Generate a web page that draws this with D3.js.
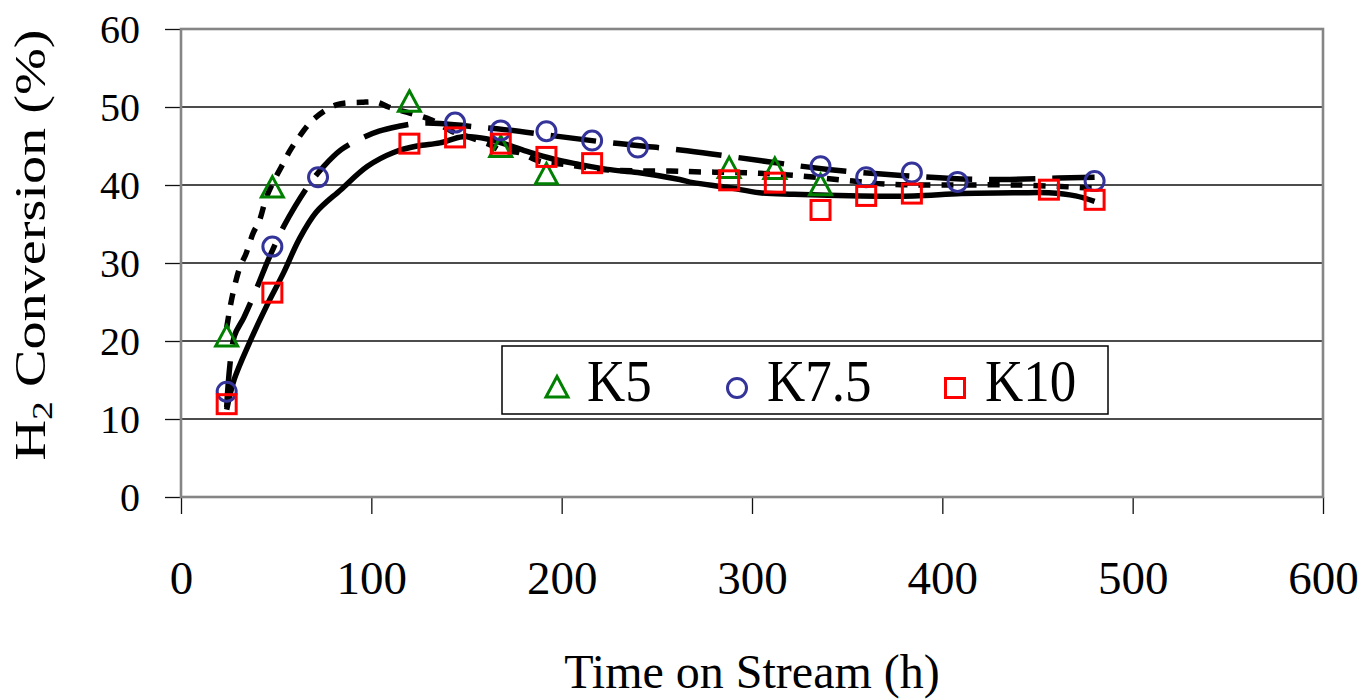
<!DOCTYPE html>
<html>
<head>
<meta charset="utf-8">
<script src="https://cdn.jsdelivr.net/npm/d3@7"></script>
<style>
    body { margin: 0; background: white; }
    svg text { font-family: "Liberation Serif", "Times New Roman", serif; fill: black; }
</style>
</head>
<body>
<div id="chart"></div>
<script>
const k5Hours = [24, 48, 120, 168, 192, 288, 312, 336];
const k5Conv = [20.5, 39.6, 50.6, 44.8, 41.3, 42.1, 42.0, 39.9];

const k75Hours = [24, 48, 72, 144, 168, 192, 216, 240, 336, 360, 384, 408, 480];
const k75Conv = [13.5, 32.1, 41.0, 48.0, 47.0, 46.9, 45.7, 44.8, 42.4, 41.0, 41.6, 40.4, 40.5];

const k10Hours = [24, 48, 120, 144, 168, 192, 216, 288, 312, 336, 360, 384, 456, 480];
const k10Conv = [11.9, 26.2, 45.3, 46.1, 45.3, 43.6, 42.8, 40.6, 40.3, 36.8, 38.6, 38.9, 39.4, 38.1];

// trend curves
const k5FitHours = [24, 27, 31, 34, 38, 41, 45, 50, 54, 57, 61, 70, 82, 95, 103, 109, 119, 131, 143, 148, 162, 169, 177, 189, 203, 221, 241, 257, 270, 290, 304, 324, 353, 371, 400, 440, 480];
const k5FitConv = [21.7, 25.8, 29.5, 31.1, 33.9, 35.3, 38.5, 41.1, 42.9, 44.3, 45.8, 48.5, 50.3, 50.6, 50.6, 50.0, 49.3, 48.4, 46.8, 46.4, 45.2, 44.3, 44.2, 43.0, 42.6, 42.0, 41.8, 41.8, 41.7, 41.6, 41.5, 41.2, 40.5, 40.1, 40.0, 40.0, 39.6];

const k75FitHours = [24, 28, 33, 40, 46, 54, 60, 68, 75, 84, 94, 104, 114, 124, 136, 153, 170, 196, 226, 266, 305, 340, 380, 420, 461, 480];
const k75FitConv = [11.5, 20.6, 23.0, 26.9, 30.5, 34.7, 37.3, 40.3, 42.4, 44.5, 45.9, 46.9, 47.5, 47.9, 47.9, 47.5, 47.1, 46.3, 45.4, 44.4, 43.1, 42.0, 41.2, 40.7, 40.9, 41.0];

const k10FitHours = [24, 28, 36, 45, 54, 62, 71, 84, 98, 112, 124, 136, 148, 161, 171, 183, 196, 208, 224, 240, 262, 269, 287, 304, 322, 357, 385, 410, 440, 456, 470, 480];
const k10FitConv = [11.2, 15.1, 19.8, 24.5, 28.8, 33.0, 36.5, 39.4, 42.4, 44.2, 45.0, 45.4, 46.2, 45.9, 45.2, 44.2, 43.3, 42.7, 42.0, 41.6, 40.7, 40.3, 39.7, 39.0, 38.8, 38.6, 38.6, 38.9, 39.0, 39.0, 38.6, 37.9];

const seriesNames = ['K5', 'K7.5', 'K10'];
const xTicks = [0, 100, 200, 300, 400, 500, 600];
const yTicks = [0, 10, 20, 30, 40, 50, 60];

const width = 1365, height = 700;
const margin = {top: 29, right: 42, bottom: 203, left: 181};

const svg = d3.select('#chart').append('svg')
        .attr('width', width)
        .attr('height', height);

const x = d3.scaleLinear()
        .domain([0, 600])
        .range([margin.left, width - margin.right]);

const y = d3.scaleLinear()
        .domain([0, 60])
        .range([height - margin.bottom, margin.top]);

// gridlines
svg.append('g')
        .selectAll('line')
        .data(yTicks.slice(1, -1))
        .enter()
        .append('line')
        .attr('x1', x(0))
        .attr('x2', x(600))
        .attr('y1', d => y(d))
        .attr('y2', d => y(d))
        .attr('stroke', '#111')
        .attr('stroke-width', 1.4);

// axes
const yAxis = svg.append('g')
        .attr('transform', 'translate(' + x(0) + ',0)')
        .call(d3.axisLeft(y).tickValues(yTicks).tickSize(16).tickPadding(25).tickFormat(d3.format('d')));
yAxis.select('.domain').remove();
yAxis.selectAll('line').attr('stroke', '#111').attr('stroke-width', 1.3);
yAxis.selectAll('text').style('font-size', '40px').attr('dy', '0.34em');

const xAxis = svg.append('g')
        .attr('transform', 'translate(0,' + y(0) + ')')
        .call(d3.axisBottom(x).tickValues(xTicks).tickSize(17).tickPadding(47).tickFormat(d3.format('d')));
xAxis.select('.domain').remove();
xAxis.selectAll('line').attr('stroke', '#111').attr('stroke-width', 1.3);
xAxis.selectAll('text').style('font-size', '47px');

// plot frame
svg.append('rect')
        .attr('x', x(0))
        .attr('y', y(60))
        .attr('width', x(600) - x(0))
        .attr('height', y(0) - y(60))
        .attr('fill', 'none')
        .attr('stroke', '#858585')
        .attr('stroke-width', 2.6);

// axis titles
svg.append('text')
        .attr('x', x(300))
        .attr('y', 688)
        .attr('text-anchor', 'middle')
        .style('font-size', '48px')
        .text('Time on Stream (h)');

const yTitle = svg.append('text')
        .attr('transform', 'translate(45,245) rotate(-90) scale(1.25,1)')
        .attr('text-anchor', 'middle')
        .style('font-size', '45px');
yTitle.append('tspan').text('H');
yTitle.append('tspan').attr('dy', 7).style('font-size', '30px').text('2');
yTitle.append('tspan').attr('dy', -7).text(' Conversion (%)');

// trend lines
const line = d3.line()
        .x(d => x(d[0]))
        .y(d => y(d[1]))
        .curve(d3.curveCatmullRom.alpha(0.5));

const fits = [
    {hours: k5FitHours, conv: k5FitConv, dash: '12,11'},
    {hours: k75FitHours, conv: k75FitConv, dash: '46,17'},
    {hours: k10FitHours, conv: k10FitConv, dash: null}
];

fits.forEach(function (f) {
    svg.append('path')
            .datum(f.hours.map((h, i) => [h, f.conv[i]]))
            .attr('d', line)
            .attr('fill', 'none')
            .attr('stroke', 'black')
            .attr('stroke-width', 5.5)
            .attr('stroke-dasharray', f.dash);
});

// markers
const triangle = 'M0,-11.5 L11,9 L-11,9 Z';
const markerStyle = [
    {color: '#008000', shape: 'tri'},
    {color: '#333399', shape: 'circle'},
    {color: '#ff0000', shape: 'square'}
];

function drawMarker(g, shape, color) {
    if (shape === 'tri') {
        g.append('path').attr('d', triangle);
    } else if (shape === 'circle') {
        g.append('circle').attr('r', 9.5);
    } else {
        g.append('rect').attr('x', -9.5).attr('y', -9.5).attr('width', 19).attr('height', 19);
    }
    g.selectAll('path,circle,rect')
            .attr('fill', 'none')
            .attr('stroke', color)
            .attr('stroke-width', 3);
}

const series = [
    {hours: k5Hours, conv: k5Conv},
    {hours: k75Hours, conv: k75Conv},
    {hours: k10Hours, conv: k10Conv}
];

series.forEach(function (s, k) {
    svg.append('g')
            .selectAll('g')
            .data(s.hours.map((h, i) => [h, s.conv[i]]))
            .enter()
            .append('g')
            .attr('transform', d => 'translate(' + x(d[0]) + ',' + y(d[1]) + ')')
            .each(function () {
                drawMarker(d3.select(this), markerStyle[k].shape, markerStyle[k].color);
            });
});

// legend
const legend = svg.append('g');
legend.append('rect')
        .attr('x', 502)
        .attr('y', 346)
        .attr('width', 606)
        .attr('height', 68)
        .attr('fill', 'white')
        .attr('stroke', 'black')
        .attr('stroke-width', 1.5);

const legendX = [557, 737, 955];
seriesNames.forEach(function (name, k) {
    const g = legend.append('g')
            .attr('transform', 'translate(' + legendX[k] + ',388)');
    drawMarker(g, markerStyle[k].shape, markerStyle[k].color);
    legend.append('text')
            .attr('transform', 'translate(' + (legendX[k] + 30) + ',401) scale(1,1.1)')
            .style('font-size', '53px')
            .text(name);
});
</script>
</body>
</html>
